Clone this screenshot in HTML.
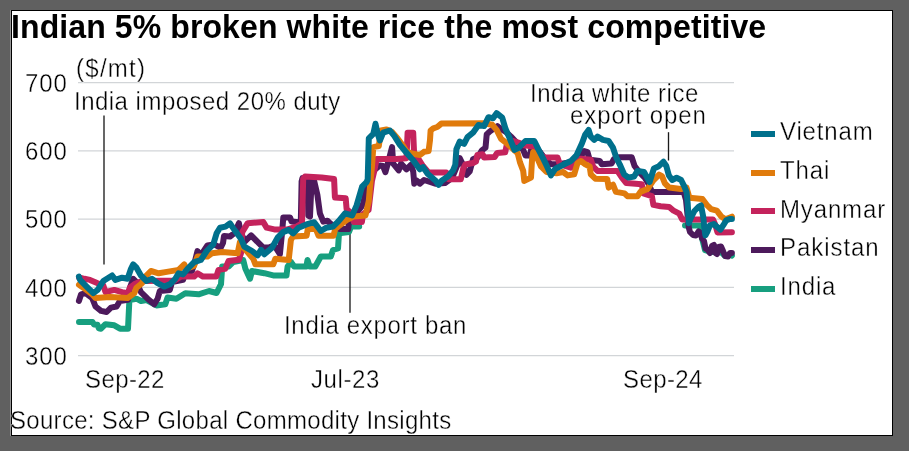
<!DOCTYPE html>
<html><head><meta charset="utf-8"><title>chart</title>
<style>
html,body{margin:0;padding:0;}
body{width:909px;height:451px;background:#606060;position:relative;overflow:hidden;font-family:"Liberation Sans",sans-serif;color:#111;}
#panel{position:absolute;left:11px;top:10px;width:880px;height:424px;background:#fff;border:1px solid #000;}
#halo{position:absolute;left:10px;top:10px;width:1px;height:426px;background:#959595;}
.t{position:absolute;white-space:nowrap;color:#000;-webkit-text-stroke:0.35px #fff;will-change:transform;}
</style></head><body>
<div id="halo"></div><div id="panel"></div>
<svg width="909" height="451" viewBox="0 0 909 451" style="position:absolute;left:0;top:0"><line x1="78" x2="734" y1="82.6" y2="82.6" stroke="#d2d5d8" stroke-width="1.33"/><line x1="78" x2="734" y1="150.85" y2="150.85" stroke="#d2d5d8" stroke-width="1.33"/><line x1="78" x2="734" y1="219.1" y2="219.1" stroke="#d2d5d8" stroke-width="1.33"/><line x1="78" x2="734" y1="287.35" y2="287.35" stroke="#d2d5d8" stroke-width="1.33"/><line x1="78" x2="734" y1="355.6" y2="355.6" stroke="#d2d5d8" stroke-width="1.33"/><g stroke="#1a1a1a" stroke-width="1.33"><line x1="104" x2="104" y1="115.5" y2="264.5"/><line x1="350" x2="350" y1="227" y2="312.7"/><line x1="668.5" x2="668.5" y1="132.2" y2="160.5"/></g><g fill="none" stroke-width="6" stroke-linejoin="round" stroke-linecap="round"><path stroke="#179f7f" d="M79.0,322.0 L92.5,322.0 L94.0,324.5 L97.5,324.8 L98.8,328.2 L101.0,328.7 L105.5,324.2 L114.3,325.3 L120.0,328.7 L128.0,328.7 L129.4,300.0 L136.5,298.7 L141.0,301.0 L146.5,300.0 L156.5,305.4 L165.3,304.3 L167.5,297.6 L176.4,298.7 L185.3,293.2 L198.6,294.3 L209.0,291.0 L216.6,293.0 L221.0,284.2 L222.2,266.5 L228.8,266.5 L233.3,262.0 L243.2,260.0 L245.4,268.7 L250.0,278.7 L252.0,271.0 L264.3,273.2 L273.2,275.4 L286.5,275.4 L287.6,266.5 L291.0,262.0 L294.2,266.5 L306.4,266.5 L307.5,260.0 L309.7,266.5 L315.3,266.5 L320.8,256.5 L330.8,256.5 L333.0,250.0 L338.0,248.5 L339.0,233.2 L349.0,232.0 L351.0,226.6 L359.2,226.6"/><path stroke="#179f7f" d="M685.0,225.4 L700.0,225.4 L702.0,238.0 L705.0,250.0 L712.0,252.0 L720.0,251.0 L725.0,256.0 L731.0,254.0 L731.9,255.6"/><path stroke="#4d1a5c" d="M78.9,301.0 L81.1,294.3 L85.5,293.2 L92.2,298.1 L95.5,306.5 L101.0,310.9 L106.6,312.0 L111.0,307.6 L116.6,306.5 L119.9,301.0 L128.0,299.9 L129.9,287.7 L133.2,278.8 L136.5,282.1 L140.9,292.1 L147.6,298.7 L154.2,304.3 L157.6,298.7 L159.8,291.0 L169.8,289.9 L172.0,282.1 L183.0,279.9 L185.3,273.3 L191.9,271.0 L194.1,264.4 L197.5,251.1 L200.8,255.5 L207.4,245.5 L214.1,244.4 L220.7,247.8 L223.0,243.0 L224.0,236.0 L230.0,236.5 L234.4,233.2 L238.9,223.2 L241.1,234.3 L245.5,240.9 L251.1,235.4 L258.8,243.2 L263.3,247.6 L268.8,247.6 L274.3,245.4 L279.9,254.2 L282.1,232.1 L283.3,217.4 L290.0,217.4 L291.6,221.6 L300.8,222.4 L301.6,181.6 L302.5,178.0 L307.5,178.0 L308.3,215.7 L310.0,216.6 L311.6,180.8 L314.1,180.8 L317.4,195.0 L319.9,213.3 L323.3,221.6 L327.4,220.7 L329.9,223.2 L335.0,227.0 L339.9,229.1 L348.2,229.1 L349.1,219.9 L355.0,215.0 L361.5,206.6 L363.3,203.2 L366.0,190.0 L372.0,172.0 L379.9,165.5 L383.0,166.0 L385.4,172.2 L387.7,164.0 L392.1,147.1 L393.2,163.7 L398.7,170.4 L401.0,163.7 L406.5,169.3 L410.9,164.9 L413.2,171.5 L414.3,183.7 L416.5,180.4 L419.8,183.7 L424.0,180.0 L435.3,183.7 L445.0,183.0 L452.0,178.0 L457.5,164.9 L459.7,158.2 L463.0,164.9 L466.4,174.8 L469.7,171.5 L473.0,159.3 L478.0,157.0 L481.9,150.4 L485.5,147.7 L486.7,134.4 L489.6,131.6 L497.4,126.1 L501.8,129.4 L506.0,132.0 L511.0,136.6 L517.0,143.0 L523.2,149.9 L525.4,155.4 L529.9,155.4 L531.0,150.0 L540.0,152.0 L546.0,160.0 L550.9,164.3 L560.0,164.0 L572.0,162.0 L580.9,156.5 L584.2,151.0 L587.5,152.1 L589.7,159.8 L599.7,161.0 L601.9,164.3 L611.5,163.5 L614.0,159.0 L618.7,157.3 L631.7,157.3 L634.6,166.0 L640.0,173.0 L645.0,178.0 L649.0,184.7 L651.9,191.9 L683.7,191.9 L686.0,200.0 L688.8,227.6 L690.0,232.0 L693.0,235.0 L696.0,235.5 L698.5,231.5 L700.5,233.0 L702.0,238.5 L704.0,241.0 L705.5,248.5 L708.0,250.0 L710.0,253.0 L712.0,246.0 L714.0,245.0 L715.5,253.0 L717.0,254.0 L718.5,247.0 L721.0,246.5 L723.0,251.0 L725.0,256.0 L728.0,256.5 L730.0,253.0 L731.9,253.0"/><path stroke="#c4235c" d="M79.0,277.5 L84.4,278.8 L90.0,279.9 L97.7,283.2 L103.3,285.4 L105.5,292.1 L114.3,289.9 L122.1,292.1 L128.0,293.2 L129.9,287.7 L134.3,284.3 L138.7,282.1 L145.4,281.0 L174.2,280.6 L180.8,276.6 L194.1,276.6 L197.5,273.3 L203.0,276.6 L216.3,276.6 L218.5,269.9 L225.2,268.8 L228.5,261.1 L238.9,259.8 L241.0,253.0 L242.2,232.1 L247.7,223.2 L263.3,222.1 L266.6,227.6 L274.3,229.4 L287.6,229.4 L296.5,226.5 L302.0,223.2 L303.2,178.9 L305.0,176.6 L321.6,177.5 L334.1,179.1 L334.9,197.4 L345.7,198.3 L346.6,209.1 L350.0,212.0 L354.1,222.0 L361.9,222.0 L363.0,214.3 L368.6,209.9 L371.9,181.1 L374.3,171.0 L376.6,158.9 L396.5,158.9 L406.5,158.2 L407.6,132.7 L413.2,132.7 L414.3,158.2 L418.7,159.3 L423.0,166.0 L428.7,172.6 L446.4,172.6 L448.6,179.3 L460.8,179.3 L463.0,169.3 L465.3,164.5 L473.0,163.0 L476.0,161.6 L477.3,155.0 L482.6,154.3 L484.0,157.4 L494.6,157.0 L497.2,153.0 L505.2,152.3 L506.5,146.0 L513.3,141.0 L519.9,143.2 L524.3,145.4 L533.2,146.6 L538.0,152.0 L544.3,157.6 L557.6,157.6 L559.8,164.3 L570.9,167.6 L575.0,160.0 L580.9,158.7 L590.8,159.8 L593.1,166.5 L597.5,170.9 L617.4,170.9 L621.9,177.6 L626.3,183.1 L641.8,184.2 L643.3,193.4 L651.9,196.2 L653.4,204.9 L660.6,206.3 L669.2,206.9 L673.6,210.7 L679.3,213.6 L682.2,219.5 L713.0,219.5 L715.0,224.0 L717.5,232.5 L731.9,232.3"/><path stroke="#e07b0c" d="M79.0,284.8 L83.3,287.7 L92.2,294.3 L95.5,298.1 L110.0,297.0 L127.6,298.1 L134.3,293.2 L136.5,287.7 L142.0,283.2 L145.4,276.6 L150.9,271.0 L158.7,273.3 L165.3,272.1 L178.6,269.9 L184.2,264.4 L186.4,268.8 L194.0,266.0 L197.5,256.6 L207.4,256.6 L211.9,253.3 L222.2,252.1 L237.7,253.2 L239.9,242.1 L244.0,248.0 L253.2,258.7 L255.4,264.3 L273.2,264.3 L275.4,258.7 L288.7,259.9 L290.9,239.9 L293.1,236.6 L306.6,235.7 L307.8,229.0 L315.8,229.0 L318.5,235.7 L333.5,235.7 L335.2,229.0 L338.0,226.6 L346.6,220.0 L353.3,216.5 L365.5,215.4 L368.8,201.0 L369.9,187.7 L372.1,165.0 L373.3,147.1 L378.8,146.0 L381.0,130.5 L386.6,129.4 L392.0,132.0 L398.0,139.0 L403.2,146.0 L406.5,151.6 L413.2,153.8 L420.0,155.0 L424.0,151.8 L428.6,151.0 L430.0,140.0 L430.6,130.5 L433.3,128.3 L437.3,127.0 L441.3,123.6 L484.0,123.2 L492.2,124.8 L496.6,129.9 L501.1,138.8 L506.6,143.2 L512.0,148.0 L517.7,153.2 L519.9,162.1 L523.2,170.9 L524.3,180.9 L531.0,177.6 L532.1,158.7 L533.2,152.1 L537.6,158.7 L541.0,166.5 L546.5,172.0 L556.5,173.2 L563.1,172.0 L567.6,175.4 L574.2,174.3 L577.5,163.2 L580.9,161.0 L585.3,164.3 L589.7,166.5 L590.8,174.3 L595.3,178.7 L607.2,178.9 L608.7,187.6 L613.0,184.7 L615.9,191.9 L624.5,193.4 L627.4,196.2 L637.5,196.2 L640.4,191.9 L647.6,189.0 L653.4,180.4 L659.1,174.6 L662.0,176.1 L664.9,183.3 L669.2,187.6 L680.8,189.0 L686.5,187.6 L689.4,197.7 L702.4,199.1 L706.7,204.9 L711.1,209.2 L716.8,210.7 L721.2,216.4 L725.5,219.3 L731.9,216.7"/><path stroke="#00708c" d="M78.9,276.6 L80.0,279.9 L86.6,286.6 L93.3,293.2 L97.7,289.9 L103.3,281.0 L112.1,275.5 L115.4,279.9 L122.1,277.7 L127.6,278.8 L131.0,268.8 L133.2,264.4 L136.5,267.7 L140.9,275.5 L146.5,281.0 L152.0,278.8 L157.6,283.2 L164.2,286.6 L169.8,284.3 L175.3,278.8 L178.6,273.3 L183.0,274.4 L187.5,268.8 L194.1,262.2 L200.8,260.0 L206.7,251.0 L213.3,244.3 L216.6,233.3 L220.0,227.7 L225.5,226.6 L229.9,223.3 L234.4,229.9 L241.0,238.8 L244.3,246.6 L252.1,251.0 L257.6,255.4 L261.0,249.9 L264.3,254.3 L272.0,247.7 L277.6,237.7 L283.1,232.1 L288.7,229.9 L293.1,233.3 L298.6,227.7 L306.4,224.4 L314.2,222.2 L320.8,231.0 L326.4,227.7 L333.0,226.6 L338.6,221.1 L345.2,213.3 L352.2,215.4 L356.6,205.4 L358.8,197.7 L362.1,186.6 L366.6,182.1 L367.7,179.3 L368.8,138.3 L373.3,133.8 L375.5,123.8 L377.7,133.8 L379.9,140.5 L383.2,132.7 L389.9,130.5 L394.3,136.0 L399.9,144.9 L406.5,152.7 L413.2,160.4 L419.8,169.3 L423.1,167.1 L427.6,173.7 L435.3,180.4 L438.7,184.8 L442.0,180.4 L448.6,175.9 L453.1,170.4 L455.3,164.9 L456.4,149.3 L459.7,141.6 L464.1,143.8 L467.5,137.1 L473.0,132.7 L478.5,125.0 L484.1,126.1 L488.5,117.2 L493.0,118.3 L496.6,113.2 L502.2,117.7 L505.5,128.8 L509.9,138.8 L514.4,149.9 L518.8,147.7 L525.4,141.0 L534.3,141.0 L538.7,149.9 L543.2,158.7 L546.5,165.4 L550.9,175.4 L555.4,168.7 L564.2,164.3 L570.9,161.0 L576.4,155.4 L582.0,143.2 L585.3,134.4 L588.6,129.9 L590.8,136.6 L594.2,139.9 L597.5,136.6 L603.0,139.9 L608.6,141.0 L613.0,147.7 L616.3,157.6 L619.7,164.3 L624.1,174.3 L628.5,177.6 L634.1,176.5 L637.4,170.9 L644.0,172.0 L649.6,182.0 L653.9,168.5 L658.3,166.6 L663.5,161.8 L666.3,166.0 L668.9,175.5 L672.2,180.0 L676.6,177.8 L681.1,180.0 L684.4,186.6 L686.6,192.2 L687.7,203.3 L688.8,223.2 L691.0,217.7 L694.4,211.0 L698.8,206.6 L701.0,205.5 L703.2,216.6 L704.3,227.6 L705.4,235.4 L707.7,231.0 L709.9,225.4 L713.9,224.0 L716.8,226.7 L720.4,229.6 L723.3,225.2 L726.2,220.4 L729.8,219.0 L731.9,219.0"/></g><rect x="751" y="131" width="24" height="6" fill="#00708c"/><rect x="751" y="170" width="24" height="6" fill="#e07b0c"/><rect x="751" y="208" width="24" height="6" fill="#c4235c"/><rect x="751" y="247" width="24" height="6" fill="#4d1a5c"/><rect x="751" y="286" width="24" height="6" fill="#179f7f"/></svg>
<div class="t" style="left:11.4px;top:10.71px;font-size:32px;line-height:32px;letter-spacing:0.1px;font-weight:bold;transform-origin:0 27.09px;transform:scaleY(1.06);-webkit-text-stroke:0">Indian 5% broken white rice the most competitive</div><div class="t" style="left:76.4px;top:56.98px;font-size:24px;line-height:24px;letter-spacing:1.28px;font-weight:normal;transform-origin:0 20.32px;transform:scaleY(1.04);">($/mt)</div><div class="t" style="left:74px;top:90.28px;font-size:24px;line-height:24px;letter-spacing:0.48px;font-weight:normal;transform-origin:0 20.32px;transform:scaleY(1.04);">India imposed 20% duty</div><div class="t" style="left:283.6px;top:313.88px;font-size:24px;line-height:24px;letter-spacing:0.68px;font-weight:normal;transform-origin:0 20.32px;transform:scaleY(1.04);">India export ban</div><div class="t" style="left:530.3px;top:82.48px;font-size:24px;line-height:24px;letter-spacing:0.55px;font-weight:normal;transform-origin:0 20.32px;transform:scaleY(1.04);">India white rice</div><div class="t" style="left:570.2px;top:103.68px;font-size:24px;line-height:24px;letter-spacing:0.92px;font-weight:normal;transform-origin:0 20.32px;transform:scaleY(1.04);">export open</div><div class="t" style="left:24.8px;top:71.98px;font-size:24px;line-height:24px;letter-spacing:0.9px;font-weight:normal;transform-origin:0 20.32px;transform:scaleY(1.04);">700</div><div class="t" style="left:24.8px;top:140.23px;font-size:24px;line-height:24px;letter-spacing:0.9px;font-weight:normal;transform-origin:0 20.32px;transform:scaleY(1.04);">600</div><div class="t" style="left:24.8px;top:208.48px;font-size:24px;line-height:24px;letter-spacing:0.9px;font-weight:normal;transform-origin:0 20.32px;transform:scaleY(1.04);">500</div><div class="t" style="left:24.8px;top:276.73px;font-size:24px;line-height:24px;letter-spacing:0.9px;font-weight:normal;transform-origin:0 20.32px;transform:scaleY(1.04);">400</div><div class="t" style="left:24.8px;top:344.98px;font-size:24px;line-height:24px;letter-spacing:0.9px;font-weight:normal;transform-origin:0 20.32px;transform:scaleY(1.04);">300</div><div class="t" style="left:84.7px;top:367.58px;font-size:24px;line-height:24px;letter-spacing:0.4px;font-weight:normal;transform-origin:0 20.32px;transform:scaleY(1.04);">Sep-22</div><div class="t" style="left:310.8px;top:367.58px;font-size:24px;line-height:24px;letter-spacing:0.6px;font-weight:normal;transform-origin:0 20.32px;transform:scaleY(1.04);">Jul-23</div><div class="t" style="left:623.3px;top:367.58px;font-size:24px;line-height:24px;letter-spacing:0.4px;font-weight:normal;transform-origin:0 20.32px;transform:scaleY(1.04);">Sep-24</div><div class="t" style="left:9.8px;top:409.08px;font-size:24px;line-height:24px;letter-spacing:0.3px;font-weight:normal;transform-origin:0 20.32px;transform:scaleY(1.04);">Source: S&amp;P Global Commodity Insights</div><div class="t" style="left:780.4px;top:120.48px;font-size:24px;line-height:24px;letter-spacing:0.85px;font-weight:normal;transform-origin:0 20.32px;transform:scaleY(1.04);">Vietnam</div><div class="t" style="left:780.4px;top:159.03px;font-size:24px;line-height:24px;letter-spacing:0.85px;font-weight:normal;transform-origin:0 20.32px;transform:scaleY(1.04);">Thai</div><div class="t" style="left:780.4px;top:197.58px;font-size:24px;line-height:24px;letter-spacing:0.85px;font-weight:normal;transform-origin:0 20.32px;transform:scaleY(1.04);">Myanmar</div><div class="t" style="left:780.4px;top:236.13px;font-size:24px;line-height:24px;letter-spacing:0.95px;font-weight:normal;transform-origin:0 20.32px;transform:scaleY(1.04);">Pakistan</div><div class="t" style="left:780.4px;top:274.68px;font-size:24px;line-height:24px;letter-spacing:0.85px;font-weight:normal;transform-origin:0 20.32px;transform:scaleY(1.04);">India</div>
</body></html>
